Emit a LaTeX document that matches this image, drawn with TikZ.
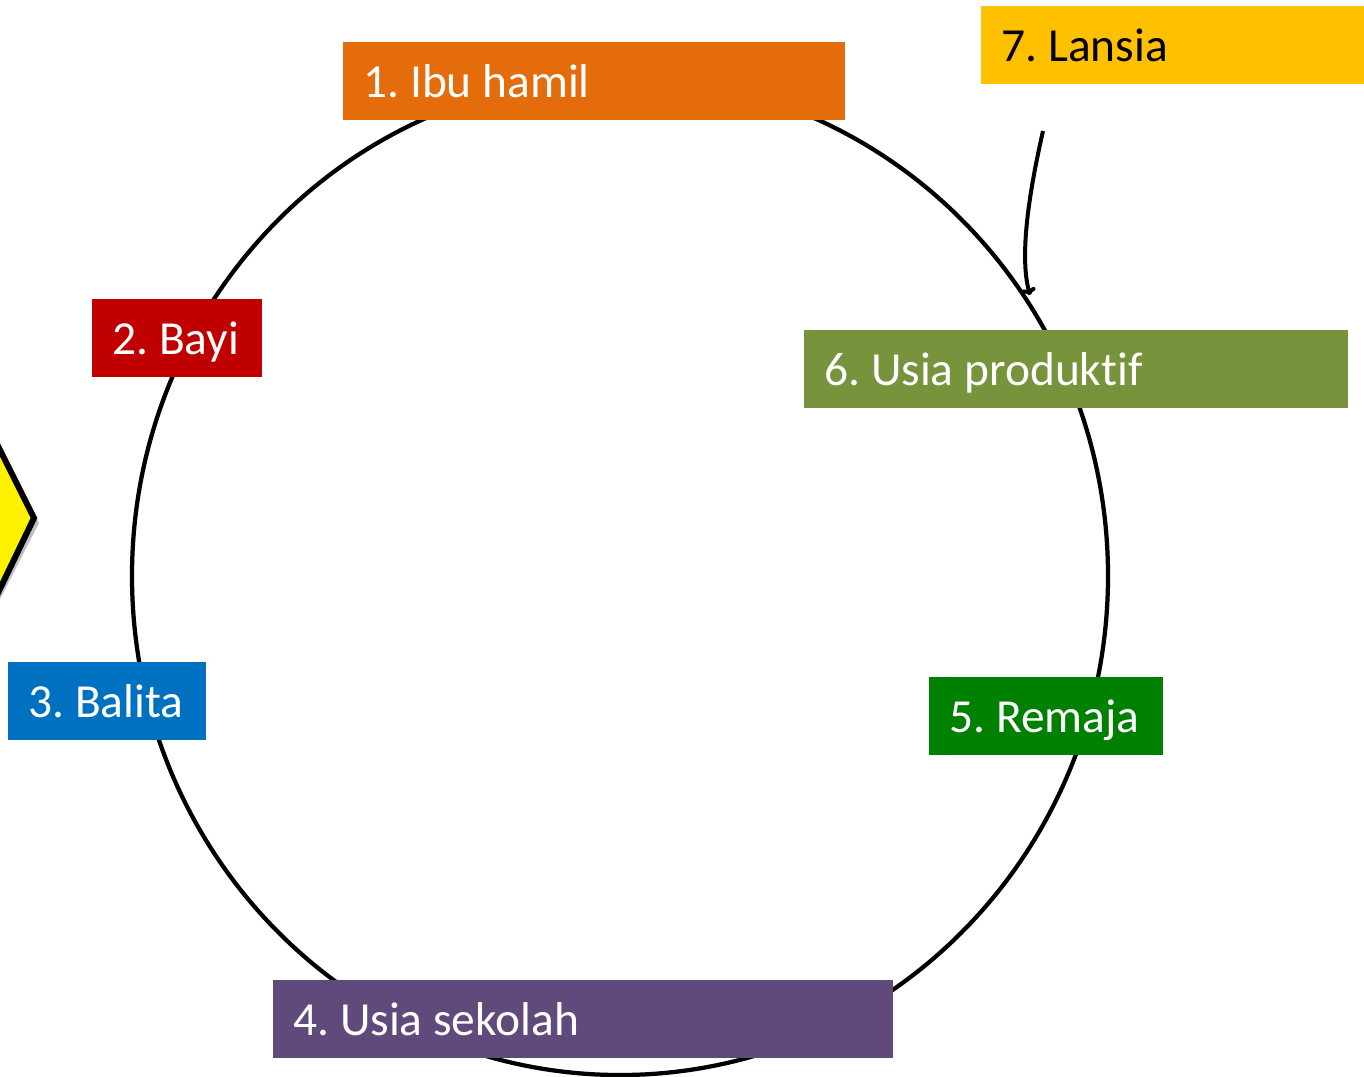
\documentclass[tikz,border=0pt]{standalone}
\usepackage{fontspec}
\setmainfont{Carlito}[Ligatures=NoCommon]
\usetikzlibrary{arrows.meta}
\definecolor{ibuorange}{RGB}{228,108,10}
\definecolor{bayired}{RGB}{192,0,0}
\definecolor{balitablue}{RGB}{0,112,192}
\definecolor{sekolahpurple}{RGB}{96,74,123}
\definecolor{remajagreen}{RGB}{0,128,0}
\definecolor{produktifolive}{RGB}{119,147,60}
\definecolor{lansiagold}{RGB}{255,192,0}

\newcommand{\stagetext}[2]{\makebox[#1][l]{\frenchspacing #2}}

\tikzset{
  stage/.style={rectangle, anchor=west, minimum height=1.56cm, inner ysep=0pt,
    inner xsep=0.4cm, text height=0.8cm, text depth=0.16cm,
    text=white, font=\fontsize{27}{32}\selectfont},
}

\begin{document}
\begin{tikzpicture}[x=0.02cm, y=-0.02cm]
\useasboundingbox (0,0) rectangle (1364,1076);

% yellow pointer at the left
\begin{scope}
\clip (0,0) rectangle (1364,1076);
\fill[black!25] (-40,375) -- (39,523) -- (-40,677) -- cycle;
\filldraw[fill=yellow, draw=black, line width=0.12cm, line join=miter]
  (-40,370) -- (34,518) -- (-40,672) -- cycle;
\end{scope}

% the cycle
\draw[line width=0.085cm] (620,576) ellipse [x radius=488, y radius=499];

% stages
\node[stage, fill=ibuorange] (ibu) at (343,81) {\stagetext{9.24cm}{1. Ibu hamil}};
\node[stage, fill=bayired] (bayi) at (92,338) {\stagetext{2.6cm}{2. Bayi}};
\node[stage, fill=balitablue] (balita) at (8,701) {\stagetext{3.16cm}{3. Balita}};
\node[stage, fill=sekolahpurple] (sekolah) at (273,1019) {\stagetext{11.6cm}{4. Usia sekolah}};
\node[stage, fill=remajagreen] (remaja) at (929,716) {\stagetext{3.88cm}{5. Remaja}};
\node[stage, fill=produktifolive] (produktif) at (804,369) {\stagetext{10.08cm}{6. Usia produktif}};
\node[stage, fill=lansiagold, text=black] (lansia) at (981,45) {\stagetext{6.86cm}{7. Lansia}};

\coordinate (lansiaout) at (1043,131);
\coordinate (cyclein) at (1030,295);
\draw[line width=0.08cm, -{To[length=4pt,width=8pt]}] (lansiaout)
  .. controls (1025,210) and (1021,262) .. (cyclein);

\end{tikzpicture}
\end{document}
